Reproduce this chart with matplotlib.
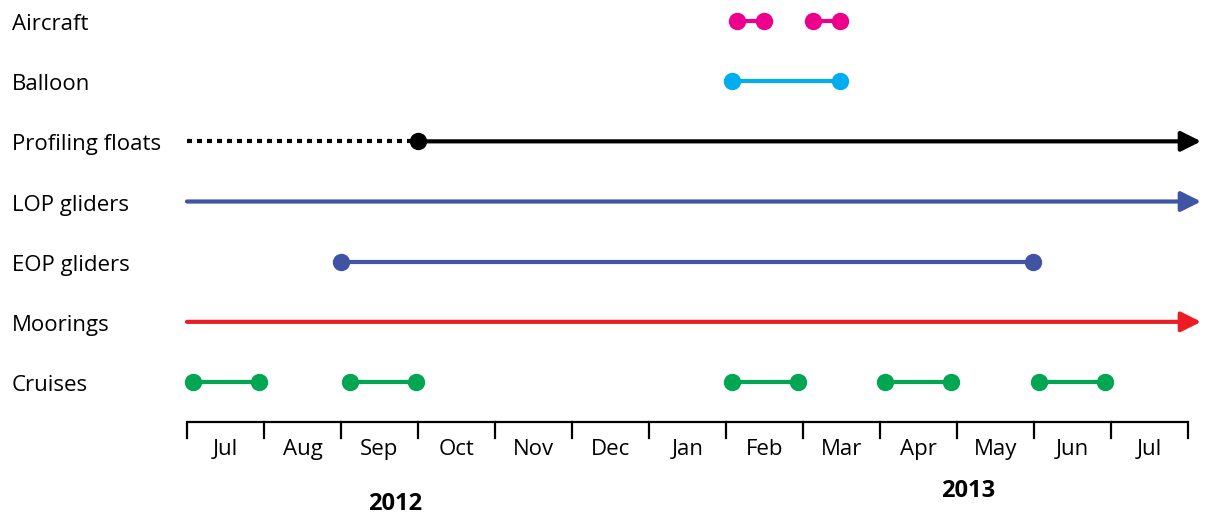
import matplotlib.pyplot as plt

plt.rcParams['font.family'] = ['Open Sans', 'DejaVu Sans']

# rows, top to bottom
rows = ['Aircraft', 'Balloon', 'Profiling floats', 'LOP gliders',
        'EOP gliders', 'Moorings', 'Cruises']

# months since 1 Jul 2012
aircraft = [(7.14, 7.49), (8.13, 8.48)]
balloon = [(7.08, 8.48)]
eop = [(2.0, 10.99)]
cruises = [(0.08, 0.94), (2.12, 2.97), (7.08, 7.94), (9.06, 9.92), (11.06, 11.92)]
floats_dotted = (0.0, 3.0)
floats_arrow = (3.0, 13.17)
lop_arrow = (0.0, 13.17)
moorings_arrow = (0.0, 13.17)

months = ['Jul', 'Aug', 'Sep', 'Oct', 'Nov', 'Dec', 'Jan',
          'Feb', 'Mar', 'Apr', 'May', 'Jun', 'Jul']

pink = '#EC008C'
cyan = '#00AEEF'
blue = '#4054A6'
red = '#ED1C24'
green = '#00A651'

PX = 77.0     # pixels per month
X0 = 187.0    # pixel of 1 Jul 2012
ROW = 60.17   # pixels per row
Y0 = 21.0     # pixel of first row


def px(x):
    return (x - X0) / PX


def py(y):
    return (y - Y0) / ROW


fig = plt.figure(figsize=(12.1, 5.18), dpi=100)
ax = fig.add_axes([0, 0, 1, 1])
ax.set_xlim(px(0), px(1210))
ax.set_ylim(py(518), py(0))
ax.axis('off')

lw = 3
ms = 11.5


def segments(row, segs, color):
    y = rows.index(row)
    for a, b in segs:
        ax.plot([a, b], [y, y], color=color, lw=lw, marker='o', ms=ms,
                solid_capstyle='butt')


def arrow(row, seg, color):
    y = rows.index(row)
    ax.annotate('', xy=(seg[1], y), xytext=(seg[0], y),
                arrowprops=dict(arrowstyle='-|>', lw=lw, color=color,
                                mutation_scale=30, shrinkA=0, shrinkB=0))


segments('Aircraft', aircraft, pink)
segments('Balloon', balloon, cyan)

yf = rows.index('Profiling floats')
ax.plot(floats_dotted, [yf, yf], color='black', lw=lw, dashes=(1.2, 1.2),
        dash_capstyle='butt')
arrow('Profiling floats', floats_arrow, 'black')
ax.plot([floats_arrow[0]], [yf], 'o', color='black', ms=ms)

arrow('LOP gliders', lop_arrow, blue)
segments('EOP gliders', eop, blue)
arrow('Moorings', moorings_arrow, red)
segments('Cruises', cruises, green)

for i, r in enumerate(rows):
    ax.text(px(12), i + 9 / ROW, r, ha='left', va='baseline', fontsize=16)

# time axis
ax.plot([0, len(months)], [py(422), py(422)], color='black', lw=1.6,
        solid_capstyle='butt')
for m in range(len(months) + 1):
    ax.plot([m, m], [py(422), py(438)], color='black', lw=1.6)
for m, lab in enumerate(months):
    ax.text(m + 0.5, py(455), lab, ha='center', va='baseline', fontsize=16)

ax.text(px(395), py(510), '2012', ha='center', va='baseline',
        fontsize=17, fontweight='bold')
ax.text(px(968), py(497), '2013', ha='center', va='baseline',
        fontsize=17, fontweight='bold')

fig.savefig('out.png', dpi=100)
